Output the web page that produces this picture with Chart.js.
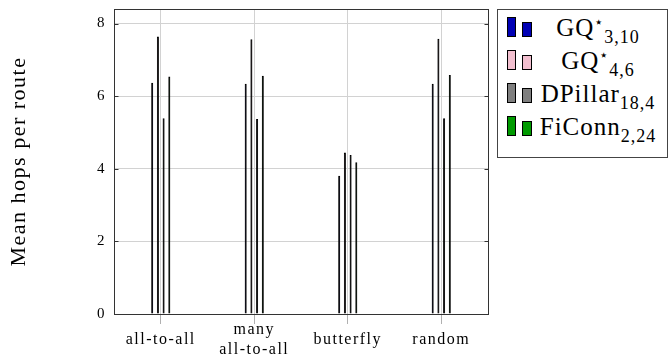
<!DOCTYPE html>
<html>
<head>
<meta charset="utf-8">
<script src="https://cdn.jsdelivr.net/npm/chart.js@4.4.0/dist/chart.umd.min.js"></script>
<style>
  body { margin: 0; background: #fff; }
  #wrap { position: relative; width: 670px; height: 362px; }
  #legend {
    position: absolute; left: 497px; top: 9px; width: 171px; height: 149px;
    border: 1px solid #444; box-sizing: border-box; background: #fff;
    font-family: 'Liberation Serif', serif; font-size: 25px; color: #000;
    letter-spacing: 1px;
  }
  .row { position: absolute; left: 0; width: 100%; height: 34px; }
  .sw { position: absolute; top: 7px; border: 1px solid #000; box-sizing: border-box; }
  .lbl { position: absolute; left: 33px; right: 2px; top: 5px; text-align: center; white-space: nowrap; line-height: 26px; }
  .lbl sub { font-size: 18px; vertical-align: -7px; line-height: 0; }
  .lbl sup { font-size: 15px; vertical-align: 9px; line-height: 0; }
</style>
</head>
<body>
<div id="wrap">
  <canvas id="chart"></canvas>
  <div id="legend"></div>
</div>
<script>
var categories = [['all-to-all'], ['many', 'all-to-all'], ['butterfly'], ['random']];
var seriesNames = ['GQ', 'GQ', 'DPillar', 'FiConn'];
var seriesSup = ['\u22c6', '\u22c6', '', ''];
var seriesSub = ['3,10', '4,6', '18,4', '2,24'];
var seriesColors = ['#0000b4', '#f2bfcf', '#7f7f7f', '#009a00'];

// mean hops per route, one entry per traffic pattern
var gq310 = [6.37, 6.34, 3.81, 6.34];
var gq46 = [7.64, 7.57, 4.45, 7.58];
var dpillar = [5.39, 5.37, 4.38, 5.39];
var ficonn = [6.54, 6.56, 4.18, 6.58];

var yTicks = [0, 2, 4, 6, 8];

var serif = "'Liberation Serif', serif";
var seriesValues = [gq310, gq46, dpillar, ficonn];

var datasets = seriesValues.map(function(vals, i) {
  return {
    label: seriesNames[i] + seriesSup[i] + seriesSub[i],
    data: vals,
    backgroundColor: seriesColors[i],
    borderColor: '#000',
    borderWidth: 1,
    borderSkipped: 'bottom'
  };
});

// spaced out lettering, like the typeset labels
var spacing = {
  id: 'spacing',
  beforeLayout: function(chart) { chart.ctx.letterSpacing = '1.5px'; },
  beforeDraw: function(chart) { chart.ctx.letterSpacing = '1.5px'; }
};

// closes the plot frame on top and right, with small inner y tick marks
var frame = {
  id: 'frame',
  afterDraw: function(chart) {
    var a = chart.chartArea, ctx = chart.ctx, y = chart.scales.y;
    var l = Math.round(a.left) + 0.5, r = Math.round(a.right) + 0.5;
    ctx.save();
    ctx.strokeStyle = '#333';
    ctx.lineWidth = 1;
    ctx.strokeRect(l, Math.round(a.top) + 0.5, r - l, Math.round(a.bottom - a.top));
    ctx.beginPath();
    yTicks.forEach(function(v) {
      var py = Math.round(y.getPixelForValue(v)) + 0.5;
      ctx.moveTo(l, py); ctx.lineTo(l + 4, py);
      ctx.moveTo(r, py); ctx.lineTo(r - 4, py);
    });
    ctx.stroke();
    ctx.restore();
  }
};

new Chart(document.getElementById('chart').getContext('2d'), {
  type: 'bar',
  data: { labels: categories, datasets: datasets },
  options: {
    responsive: true,
    maintainAspectRatio: false,
    animation: false,
    layout: { padding: { top: 9, right: 182, left: 0, bottom: 0 } },
    plugins: { legend: { display: false }, tooltip: { enabled: false } },
    datasets: { bar: { categoryPercentage: 0.244, barPercentage: 0.36 } },
    scales: {
      x: {
        afterFit: function(scale) { scale.height = 48; },
        grid: { offset: false, color: '#d2d2d2', tickColor: '#b0b0b0', tickLength: 10 },
        border: { color: '#333' },
        ticks: { color: '#000', padding: 6, crossAlign: 'center', maxRotation: 0,
                 font: { family: serif, size: 16, lineHeight: 1.25 } }
      },
      y: {
        min: 0,
        max: 8.4,
        afterFit: function(scale) {
          scale.width = 114;
          scale.paddingTop = 0;
        },
        afterBuildTicks: function(scale) {
          scale.ticks = yTicks.map(function(v) { return { value: v }; });
        },
        grid: { color: '#d2d2d2', drawTicks: false },
        border: { color: '#333' },
        ticks: { color: '#000', padding: 8, font: { family: serif, size: 15 } },
        title: { display: true, text: 'Mean hops per route', color: '#000',
                 padding: { top: 6, bottom: 0 }, font: { family: serif, size: 22 } }
      }
    }
  },
  plugins: [spacing, frame]
});

// legend: two bar swatches and a sub/superscripted name per series
var legend = document.getElementById('legend');
seriesNames.forEach(function(name, i) {
  var row = document.createElement('div');
  row.className = 'row';
  row.style.top = (i * 33) + 'px';
  var a = document.createElement('div');
  a.className = 'sw';
  a.style.cssText = 'left:9px;width:9px;height:20px;background:' + seriesColors[i];
  var b = document.createElement('div');
  b.className = 'sw';
  b.style.cssText = 'left:24px;width:10px;height:15px;margin-top:5px;background:' + seriesColors[i];
  var t = document.createElement('div');
  t.className = 'lbl';
  t.innerHTML = name + (seriesSup[i] ? '<sup>' + seriesSup[i] + '</sup>' : '') +
    '<sub>' + seriesSub[i] + '</sub>';
  row.appendChild(a);
  row.appendChild(b);
  row.appendChild(t);
  legend.appendChild(row);
});
</script>
</body>
</html>
